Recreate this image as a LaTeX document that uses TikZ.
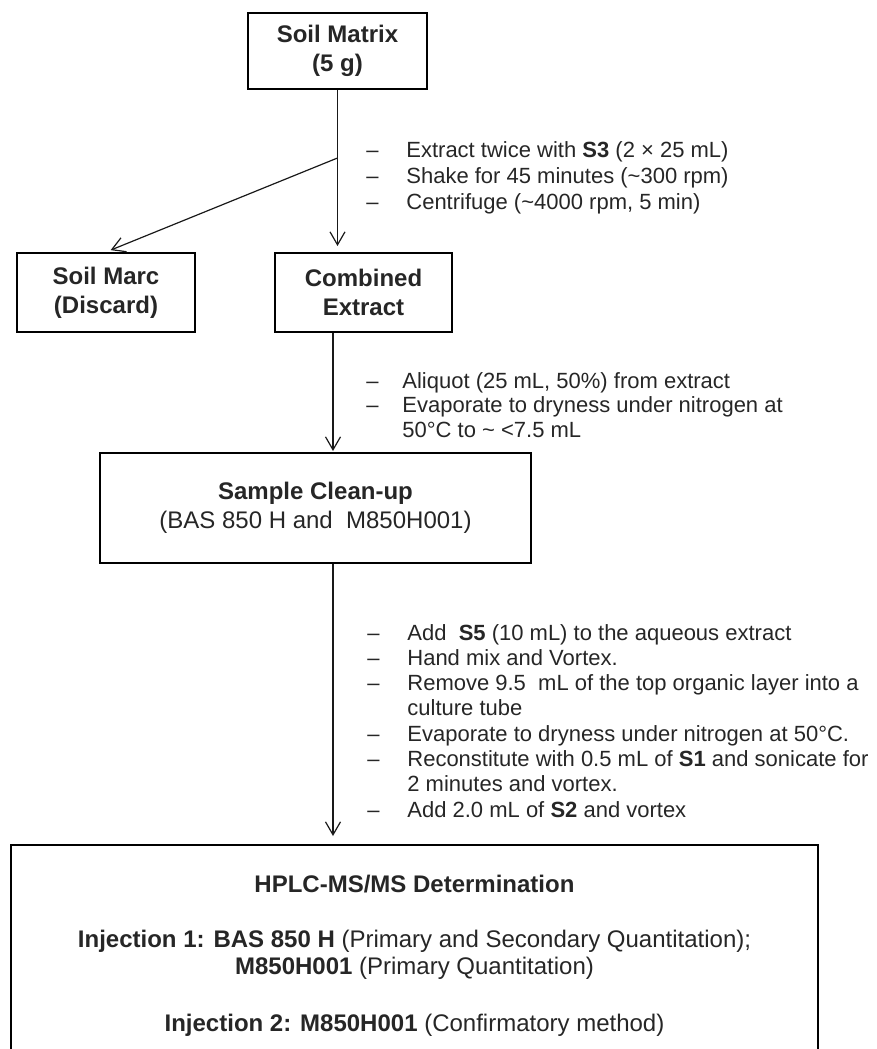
\documentclass[tikz,border=0pt]{standalone}
\usepackage{fontspec}
\setmainfont{Liberation Sans}
\usetikzlibrary{arrows.meta}
\begin{document}
\begin{tikzpicture}[x=0.5pt,y=-0.5pt,
  box/.style={draw=black, line width=1pt, inner sep=0pt, align=center, text=black!85,
    font=\fontsize{12}{14.5}\selectfont\bfseries},
  conn/.style={draw=black!90, line width=0.6pt,
    -{Straight Barb[length=6.5pt,width=7.5pt,line width=0.6pt]}},
  steps/.style={anchor=base west, inner sep=0pt, text=black!85},
  stepfont/.style={font=\fontsize{11}{#1}\selectfont},
]
\useasboundingbox (0,0) rectangle (877,1049);
\clip (0,0) rectangle (877,1049);

% boxes
\node[box, minimum width=89.5pt, minimum height=38pt] (sm) at (337.5,51) {Soil Matrix\\(5 g)};
\node[box, minimum width=89pt, minimum height=39.5pt] (marc) at (106,292.5) {Soil Marc\\(Discard)};
\node[box, minimum width=88.5pt, minimum height=39.5pt] (ce) at (363.5,292.5) {Combined\\Extract};
\node[box, minimum width=215.5pt, minimum height=55pt] (sc) at (315.5,508)
  {Sample Clean-up\\{\mdseries (BAS 850 H and\ \ M850H001)}};
\node[box, minimum width=403.5pt, minimum height=130pt] (hplc) at (414.5,975) {};

% connectors
\coordinate (br) at ([yshift=-34pt]sm.south);
\coordinate (l2) at (333,0);
\draw[conn, shorten >=3pt] (sm.south) -- (sm.south |- ce.north);
\draw[conn, shorten >=2.5pt] (br) -- (marc.north);
\draw[conn, shorten >=0.5pt] (ce.south -| l2) -- (sc.north -| l2);
\draw[conn, shorten >=4pt] (sc.south -| l2) -- (hplc.north -| l2);

% step lists
\node[steps, stepfont=13pt] (s1) at (366,157) {\begin{tabular}[t]{@{}p{20pt}@{}l@{}}
– & Extract twice with \textbf{S3} (2 × 25 mL)\\
– & Shake for 45 minutes (\textasciitilde300 rpm)\\
– & Centrifuge (\textasciitilde4000 rpm, 5 min)
\end{tabular}};

\node[steps, stepfont=12.3pt] (s2) at (366,388) {\begin{tabular}[t]{@{}p{18pt}@{}l@{}}
– & Aliquot (25 mL, 50\%) from extract\\
– & Evaporate to dryness under nitrogen at\\
  & 50°C to \textasciitilde\ <7.5 mL
\end{tabular}};

\node[steps, stepfont=12.65pt] (s3) at (367,640) {\begin{tabular}[t]{@{}p{20pt}@{}l@{}}
– & Add\ \ \textbf{S5} (10 mL) to the aqueous extract\\
– & Hand mix and Vortex.\\
– & Remove 9.5\ \ mL of the top organic layer into a\\
  & culture tube\\
– & Evaporate to dryness under nitrogen at 50°C.\\
– & Reconstitute with 0.5 mL of \textbf{S1} and sonicate for\\
  & 2 minutes and vortex.\\
– & Add 2.0 mL of \textbf{S2} and vortex
\end{tabular}};

% HPLC text
\node[anchor=base, inner sep=0pt, text=black!85, font=\fontsize{12}{13.5}\selectfont] (ht) at (414.5,892)
{\begin{tabular}[t]{@{}c@{}}
\textbf{HPLC-MS/MS Determination}\\[14pt]
\textbf{Injection 1: BAS 850 H} (Primary and Secondary Quantitation);\\
\textbf{M850H001} (Primary Quantitation)\\[15pt]
\textbf{Injection 2: M850H001} (Confirmatory method)
\end{tabular}};
\end{tikzpicture}
\end{document}
